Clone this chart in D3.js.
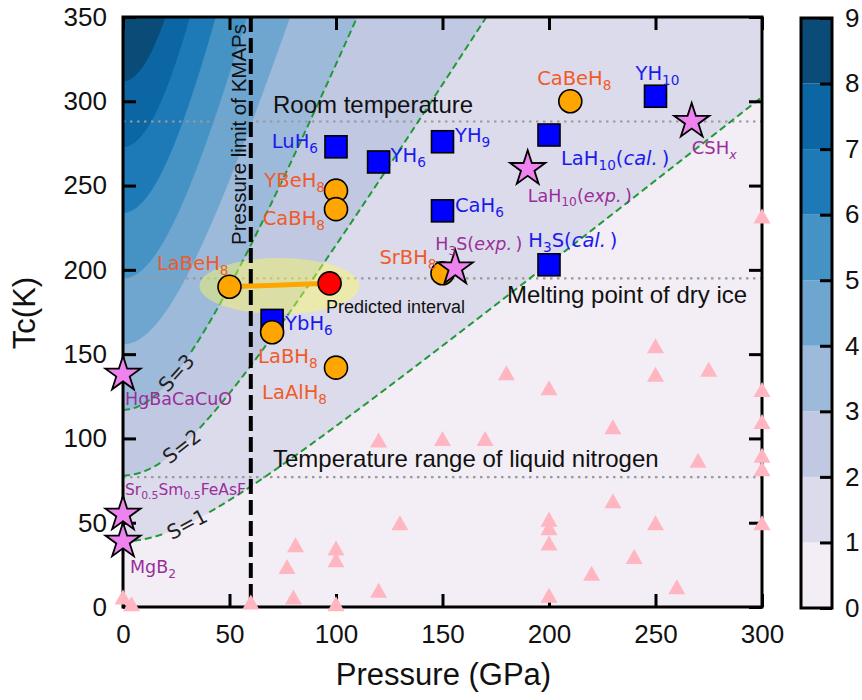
<!DOCTYPE html>
<html>
<head>
<meta charset="utf-8">
<script src="https://cdn.jsdelivr.net/npm/d3@7"></script>
<style>
  body { margin: 0; background: #fff; }
  svg { display: block; }
  text { white-space: pre; }
</style>
</head>
<body>
<svg id="chart" width="862" height="700"></svg>
<script>
// ---------- data ----------
// figure of merit S = Tc / sqrt(Tc(MgB2)^2 + P^2)
const tcMgB2 = 39;
const sLevels = [0, 1, 2, 3, 4, 5, 6, 7, 8, 9];
const bandColors = ["#f3eef5", "#dcdbeb", "#c1c8e1", "#9dbadb", "#6ea6cf",
                    "#4592c4", "#1d7ab6", "#0b66a3", "#0a4b78"];
const sCurves = [1, 2, 3];

const xTicks = [0, 50, 100, 150, 200, 250, 300];
const yTicks = [0, 50, 100, 150, 200, 250, 300, 350];

// calculated binary hydrides (blue squares)
const calcNames = ["LuH_{6}", "YH_{6}", "YH_{9}", "CaH_{6}", "LaH_{10}(*cal.*\u2009)",
                   "YH_{10}", "H_{3}S(*cal.*\u2009)", "YbH_{6}"];
const calcP  = [100, 120, 150, 150, 200, 250, 200, 70];
const calcTc = [273, 264, 276, 235, 280, 303, 203, 170];

// predicted ternary hydrides (orange circles)
const predNames = ["CaBeH_{8}", "YBeH_{8}", "CaBH_{8}", "LaBeH_{8}", "SrBH_{8}", "LaBH_{8}", "LaAlH_{8}"];
const predP  = [210, 100, 100, 50, 150, 70, 100];
const predTc = [300, 247, 236, 190, 198, 163, 142];

// experimental superconductors (stars)
const expNames = ["HgBaCaCuO", "Sr_{0.5}Sm_{0.5}FeAsF", "MgB_{2}", "H_{3}S(*exp.*\u2009)",
                  "LaH_{10}(*exp.*\u2009)", "CSH_{*x*}"];
const expP  = [0, 0, 0, 156, 190, 267];
const expTc = [138, 55, 39, 201, 260, 288];

// predicted interval: LaBeH8 to the new prediction
const intervalP  = [50, 97];
const intervalTc = [190, 192];

// other computed compounds (pink triangles)
const otherP  = [0, 4, 60, 80, 77, 81, 100, 100, 100, 120, 120, 130, 150, 170, 180,
                 200, 200, 200, 200, 200, 220, 230, 230, 240, 250, 250, 250, 260,
                 270, 275, 300, 300, 300, 300, 300, 300];
const otherTc = [6, 2, 3, 6, 24, 37, 35, 28, 2, 10, 99, 50, 100, 100, 139,
                 130, 52, 47, 38, 7, 20, 107, 63, 30, 155, 138, 50, 12,
                 87, 141, 232, 129, 110, 90, 82, 50];

// reference temperatures
const refNames = ["Room temperature", "Melting point of dry ice", "Temperature range of liquid nitrogen"];
const refTc = [288, 195, 77];
const kmapsLimit = 60;

// ---------- layout ----------
const plot = { left: 123, right: 762, top: 17, bottom: 607 };
const cb = { left: 801, right: 832, top: 18, bottom: 608 };
const labelFont = "'DejaVu Sans', sans-serif";
const axisFont = "'Liberation Sans', Arial, sans-serif";

// label offsets [dx, dy, anchor] relative to marker centre
const calcLab = [[-18, 1, "end"], [12, 0, "start"], [12.5, 0, "start"], [12.5, 1, "start"],
                 [12, 30, "start"], [2, -16, "middle"], [-20.7, -17.5, "start"], [13, 9.6, "start"]];
const predLab = [[4, -16, "middle"], [-11, -4, "end"], [-11, 16, "end"], [-1, -17, "end"],
                 [-6, -9, "end"], [-14, 31, "start"], [-9, 31, "end"]];
const expLab  = [[2, 31, "start"], [2, -19, "start"], [7, 32, "start"], [-20, -18, "start"],
                 [0, 33, "start"], [0, 32.5, "start"]];
const expSize = [17.5, 15.5, 17.5, 17.5, 17.5, 18];
const refPos  = [[273, 113], [507, 303], [273, 467]];
const sLabelP = [30, 27.5, 25];
const sLabelRot = [-28, -38, -48];

const svg = d3.select("#chart");
const x = d3.scaleLinear().domain([0, 300]).range([plot.left, plot.right]);
const y = d3.scaleLinear().domain([0, 350]).range([plot.bottom, plot.top]);
const color = d3.scaleThreshold().domain(sLevels.slice(1, -1)).range(bandColors);

svg.append("defs").append("clipPath").attr("id", "plotClip")
  .append("rect").attr("x", plot.left).attr("y", plot.top)
  .attr("width", plot.right - plot.left).attr("height", plot.bottom - plot.top);

const sOf = (p, t) => t / Math.hypot(tcMgB2, p);

// ---------- filled S bands ----------
const nx = 301, ny = 351;
const field = new Float64Array(nx * ny);
for (let j = 0; j < ny; j++) for (let i = 0; i < nx; i++) field[j * nx + i] = sOf(i, j);
const bands = d3.contours().size([nx, ny]).thresholds(sLevels.slice(0, -1))(field);
const proj = d3.geoTransform({
  point(gx, gy) { this.stream.point(x(gx - 0.5), y(gy - 0.5)); }
});
const gBands = svg.append("g").attr("clip-path", "url(#plotClip)");
gBands.selectAll("path").data(bands).join("path")
  .attr("d", d3.geoPath(proj))
  .attr("fill", d => color(d.value + 0.5))
  .attr("stroke", d => color(d.value + 0.5)).attr("stroke-width", 0.6);

// ---------- reference temperatures ----------
const gRef = svg.append("g");
gRef.selectAll("line").data(refTc).join("line")
  .attr("x1", plot.left).attr("x2", plot.right)
  .attr("y1", d => y(d)).attr("y2", d => y(d))
  .attr("stroke", "#9a9a9a").attr("stroke-width", 2.2).attr("stroke-dasharray", "2.5,4.5");

// ---------- S iso-lines ----------
const gIso = svg.append("g").attr("clip-path", "url(#plotClip)");
const pressures = d3.range(0, 300.25, 0.25);
sCurves.forEach((s, k) => {
  const lp = sLabelP[k];
  const cx = x(lp), cy = y(s * Math.hypot(tcMgB2, lp));
  const pts = pressures.map(p => [p, s * Math.hypot(tcMgB2, p)]).filter(d => d[1] <= 360);
  const line = d3.line()
    .defined(d => Math.hypot(x(d[0]) - cx, y(d[1]) - cy) > 25)
    .x(d => x(d[0])).y(d => y(d[1]));
  gIso.append("path").attr("d", line(pts)).attr("fill", "none")
    .attr("stroke", "#1f9a35").attr("stroke-width", 2).attr("stroke-dasharray", "7,4");
  gIso.append("text").attr("transform", `translate(${cx},${cy}) rotate(${sLabelRot[k]})`)
    .attr("text-anchor", "middle").attr("dy", "0.36em")
    .attr("font-family", labelFont).attr("font-size", 20).attr("fill", "#222")
    .text(`S=${s}`);
});

// ---------- predicted interval highlight ----------
const ex = (x(intervalP[0]) + x(intervalP[1])) / 2;
const ey = (y(intervalTc[0]) + y(intervalTc[1])) / 2;
svg.append("ellipse").attr("cx", ex).attr("cy", ey + 1)
  .attr("rx", (x(intervalP[1]) - x(intervalP[0])) / 2 + 30).attr("ry", 28)
  .attr("fill", "#ffff55").attr("fill-opacity", 0.42);

// pressure limit of KMAPs
svg.append("line").attr("x1", x(kmapsLimit)).attr("x2", x(kmapsLimit))
  .attr("y1", plot.top).attr("y2", plot.bottom)
  .attr("stroke", "#000").attr("stroke-width", 4).attr("stroke-dasharray", "15,6");
svg.append("text")
  .attr("transform", `translate(${x(kmapsLimit) - 5},245) rotate(-90)`)
  .attr("font-family", axisFont).attr("font-size", 20.5).attr("fill", "#111")
  .text("Pressure limit of KMAPs");

// ---------- axes and frame ----------
function styleAxis(g) {
  g.attr("font-family", axisFont).attr("font-size", 26);
  g.select(".domain").remove();
  g.selectAll(".tick line").attr("stroke", "#000").attr("stroke-width", 3);
  g.selectAll(".tick text").attr("fill", "#111");
}
svg.append("g").attr("transform", `translate(0,${plot.bottom})`)
  .call(d3.axisBottom(x).tickValues(xTicks).tickSize(-13).tickPadding(18)).call(styleAxis);
svg.append("g").attr("transform", `translate(${plot.left},0)`)
  .call(d3.axisLeft(y).tickValues(yTicks).tickSize(-13).tickPadding(16)).call(styleAxis);
svg.append("g").attr("transform", `translate(0,${plot.top})`)
  .call(d3.axisTop(x).tickValues(xTicks).tickSize(-13).tickFormat("")).call(styleAxis);
svg.append("g").attr("transform", `translate(${plot.right},0)`)
  .call(d3.axisRight(y).tickValues(yTicks).tickSize(-13).tickFormat("")).call(styleAxis);
svg.append("rect").attr("x", plot.left).attr("y", plot.top)
  .attr("width", plot.right - plot.left).attr("height", plot.bottom - plot.top)
  .attr("fill", "none").attr("stroke", "#000").attr("stroke-width", 3);

svg.append("text").attr("transform", "translate(35,313) rotate(-90)")
  .attr("text-anchor", "middle").attr("font-family", axisFont).attr("font-size", 31).attr("fill", "#111")
  .text("Tc(K)");
svg.append("text").attr("x", (plot.left + plot.right) / 2 + 1).attr("y", 685)
  .attr("text-anchor", "middle").attr("font-family", axisFont).attr("font-size", 31).attr("fill", "#111")
  .text("Pressure (GPa)");

// ---------- other compounds ----------
const tri = "M0,-7.5L8.5,7.5L-8.5,7.5Z";
svg.append("g").selectAll("path").data(otherP).join("path")
  .attr("d", tri)
  .attr("transform", (d, i) => `translate(${x(d)},${y(otherTc[i])})`)
  .attr("fill", "#ffb6c1");

svg.append("line")
  .attr("x1", x(intervalP[0])).attr("y1", y(intervalTc[0]))
  .attr("x2", x(intervalP[1])).attr("y2", y(intervalTc[1]))
  .attr("stroke", "#ffa500").attr("stroke-width", 5);

// ---------- markers ----------
svg.append("g").selectAll("rect").data(calcP).join("rect")
  .attr("x", d => x(d) - 11).attr("y", (d, i) => y(calcTc[i]) - 11)
  .attr("width", 22).attr("height", 22)
  .attr("fill", "#0000ff").attr("stroke", "#000").attr("stroke-width", 1.6);

svg.append("g").selectAll("circle").data(predP).join("circle")
  .attr("cx", d => x(d)).attr("cy", (d, i) => y(predTc[i])).attr("r", 11.5)
  .attr("fill", "#ffa500").attr("stroke", "#000").attr("stroke-width", 1.6);

svg.append("circle").attr("cx", x(intervalP[1])).attr("cy", y(intervalTc[1])).attr("r", 11.5)
  .attr("fill", "#ff0000").attr("stroke", "#000").attr("stroke-width", 1.6);

const star = d3.symbol().type(d3.symbolStar).size(384);
svg.append("g").selectAll("path").data(expP).join("path")
  .attr("d", star)
  .attr("transform", (d, i) => `translate(${x(d)},${y(expTc[i])})`)
  .attr("fill", "#ee82ee").attr("stroke", "#000").attr("stroke-width", 1.8)
  .attr("stroke-linejoin", "miter");

// ---------- labels ----------
function rich(sel, str, size) {
  const re = /_\{([^}]*)\}|\*([^*]+)\*|([^_*]+)/g;
  const drop = size * 0.25;
  let m, shifted = false;
  while ((m = re.exec(str))) {
    let t, sub = false, it = false;
    if (m[1] !== undefined) {
      t = m[1]; sub = true;
      if (t.startsWith("*") && t.endsWith("*")) { t = t.slice(1, -1); it = true; }
    } else if (m[2] !== undefined) { t = m[2]; it = true; }
    else t = m[3];
    const ts = sel.append("tspan").text(t);
    if (it) ts.attr("font-style", "italic");
    if (sub) {
      ts.attr("font-size", size * 0.7);
      if (!shifted) { ts.attr("dy", drop); shifted = true; }
    } else if (shifted) { ts.attr("dy", -drop); shifted = false; }
  }
}

function labels(names, ps, tcs, offs, sizes, fill) {
  names.forEach((n, i) => {
    const size = Array.isArray(sizes) ? sizes[i] : sizes;
    const t = svg.append("text")
      .attr("x", x(ps[i]) + offs[i][0]).attr("y", y(tcs[i]) + offs[i][1])
      .attr("text-anchor", offs[i][2])
      .attr("font-family", labelFont).attr("font-size", size).attr("fill", fill);
    rich(t, n, size);
  });
}
labels(calcNames, calcP, calcTc, calcLab, 19.5, "#1a1aee");
labels(predNames, predP, predTc, predLab, 19.5, "#f05a28");
labels(expNames, expP, expTc, expLab, expSize, "#9a2e9a");

svg.append("text").attr("x", 326).attr("y", 313)
  .attr("font-family", axisFont).attr("font-size", 18).attr("fill", "#111")
  .text("Predicted interval");

svg.append("g").selectAll("text").data(refNames).join("text")
  .attr("x", (d, i) => refPos[i][0]).attr("y", (d, i) => refPos[i][1])
  .attr("font-family", axisFont).attr("font-size", 24).attr("fill", "#111")
  .text(d => d);

// ---------- colour bar ----------
const cbY = d3.scaleLinear().domain([0, 9]).range([cb.bottom, cb.top]);
svg.append("g").selectAll("rect").data(bandColors).join("rect")
  .attr("x", cb.left).attr("width", cb.right - cb.left)
  .attr("y", (d, i) => cbY(sLevels[i + 1])).attr("height", (d, i) => cbY(sLevels[i]) - cbY(sLevels[i + 1]))
  .attr("fill", d => d);
svg.append("g").attr("transform", `translate(${cb.right},0)`)
  .call(d3.axisRight(cbY).tickValues(sLevels).tickSize(-12).tickPadding(13)).call(styleAxis);
svg.append("rect").attr("x", cb.left).attr("y", cb.top)
  .attr("width", cb.right - cb.left).attr("height", cb.bottom - cb.top)
  .attr("fill", "none").attr("stroke", "#000").attr("stroke-width", 3);
</script>
</body>
</html>
